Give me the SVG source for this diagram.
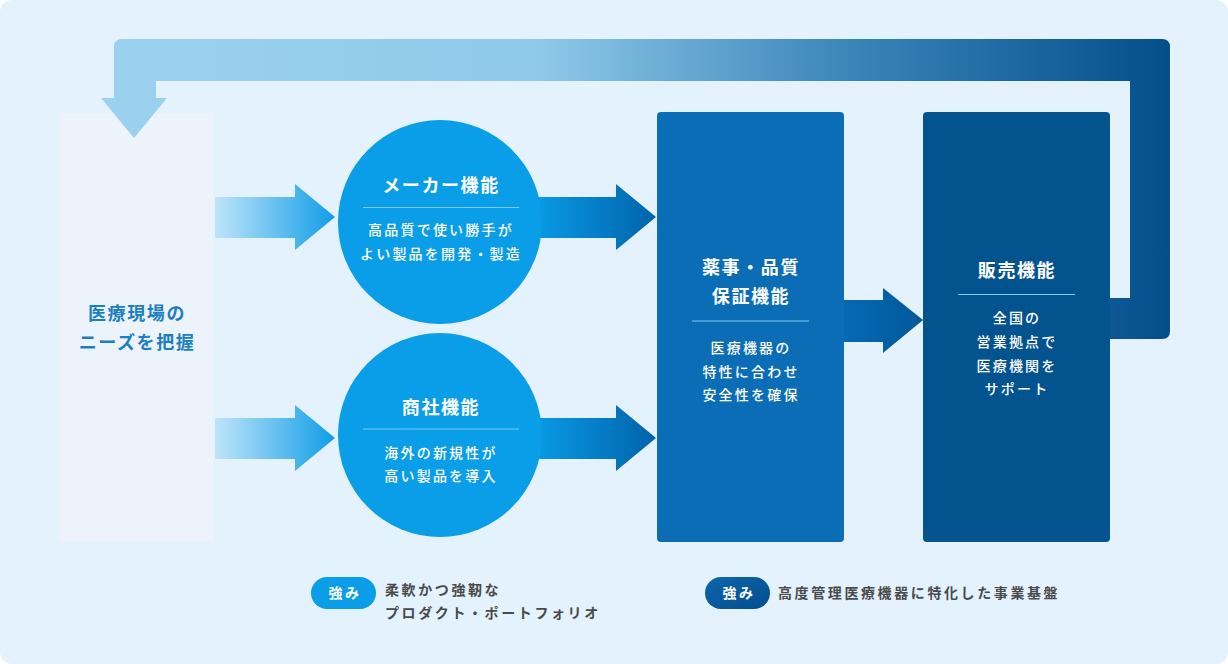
<svg xmlns="http://www.w3.org/2000/svg" width="1228" height="664" viewBox="0 0 1228 664">
<defs>
<style>
text{font-family:"Noto Sans CJK JP","Noto Sans",sans-serif;}
.t{font-size:18px;font-weight:700;fill:#fff;letter-spacing:1.6px;text-anchor:middle;}
.b{font-size:14px;font-weight:500;fill:#fff;letter-spacing:2.2px;text-anchor:middle;}
.div{stroke:#7fcaf5;stroke-width:1.2;}
.lg{font-size:14px;font-weight:700;fill:#4a4a4a;letter-spacing:2.6px;}
.pl{font-size:14px;font-weight:700;fill:#fff;letter-spacing:2.5px;text-anchor:middle;}
</style>
<linearGradient id="gFb" gradientUnits="userSpaceOnUse" x1="114" y1="0" x2="1170" y2="0">
<stop offset="0" stop-color="#9bd1ef"/>
<stop offset="0.4" stop-color="#8fc9e9"/>
<stop offset="0.7" stop-color="#3a84b9"/>
<stop offset="1" stop-color="#034e8b"/>
</linearGradient>
<linearGradient id="gIn" x1="0" y1="0" x2="1" y2="0">
<stop offset="0" stop-color="#bfe5f9"/>
<stop offset="1" stop-color="#109de7"/>
</linearGradient>
<linearGradient id="gOut" x1="0" y1="0" x2="1" y2="0">
<stop offset="0" stop-color="#0a9de8"/>
<stop offset="1" stop-color="#0063aa"/>
</linearGradient>
<linearGradient id="gMid" x1="0" y1="0" x2="1" y2="0">
<stop offset="0" stop-color="#0569b3"/>
<stop offset="1" stop-color="#03589a"/>
</linearGradient>
<linearGradient id="gPill" x1="0" y1="0" x2="1" y2="1">
<stop offset="0" stop-color="#0b66ad"/>
<stop offset="1" stop-color="#054d8c"/>
</linearGradient>
</defs>
<rect x="0" y="0" width="1228" height="664" rx="12" fill="#e3f2fd"/>

<g id="needs">
<rect x="60" y="113" width="153" height="428" fill="#edf3fb"/>
<text class="t" x="137" y="320" style="fill:#1b7fc1">医療現場の</text>
<text class="t" x="137" y="349" style="fill:#1b7fc1">ニーズを把握</text>
</g>

<g id="connectors">
<path d="M1110 298 H1130 V81 H156 V98 H167 L134 138 L101 98 H114 V47 Q114 39 122 39 H1162 Q1170 39 1170 47 V331 Q1170 339 1162 339 H1110 Z" fill="url(#gFb)"/>
<path d="M215 197 H295 V184 L335 217 L295 250 V238 H215 Z" fill="url(#gIn)"/>
<path d="M215 418 H295 V405 L335 438 L295 471 V459 H215 Z" fill="url(#gIn)"/>
<path d="M530 197 H616 V184 L656 217 L616 250 V238 H530 Z" fill="url(#gOut)"/>
<path d="M530 418 H616 V405 L656 438 L616 471 V459 H530 Z" fill="url(#gOut)"/>
<path d="M844 300 H883 V288 L923 320 L883 353 V342 H844 Z" fill="url(#gMid)"/>
</g>

<g id="maker">
<circle cx="440" cy="222" r="102" fill="#0a9de8"/>
<text class="t" x="441" y="192">メーカー機能</text>
<line class="div" x1="363" y1="207.5" x2="519" y2="207.5"/>
<text class="b" x="441" y="235">高品質で使い勝手が</text>
<text class="b" x="441" y="259">よい製品を開発・製造</text>
</g>

<g id="trading">
<circle cx="440" cy="435" r="102" fill="#0a9de8"/>
<text class="t" x="441" y="414">商社機能</text>
<line class="div" x1="363" y1="429" x2="519" y2="429"/>
<text class="b" x="441" y="458">海外の新規性が</text>
<text class="b" x="441" y="481">高い製品を導入</text>
</g>

<g id="qa">
<rect x="657" y="112" width="187" height="430" rx="4" fill="#0a6db6"/>
<text class="t" x="751" y="274">薬事・品質</text>
<text class="t" x="751" y="303">保証機能</text>
<line class="div" x1="692" y1="321" x2="809" y2="321"/>
<text class="b" x="751" y="353">医療機器の</text>
<text class="b" x="751" y="377">特性に合わせ</text>
<text class="b" x="751" y="400">安全性を確保</text>
</g>

<g id="sales">
<rect x="923" y="112" width="187" height="430" rx="4" fill="#03538f"/>
<text class="t" x="1017" y="277">販売機能</text>
<line class="div" x1="958" y1="294.5" x2="1075" y2="294.5"/>
<text class="b" x="1017" y="323">全国の</text>
<text class="b" x="1017" y="347">営業拠点で</text>
<text class="b" x="1017" y="371">医療機関を</text>
<text class="b" x="1017" y="394">サポート</text>
</g>

<g id="strength1">
<rect x="311" y="577" width="65" height="32" rx="16" fill="#0a9de8"/>
<text class="pl" x="345" y="598">強み</text>
<text class="lg" x="385" y="595">柔軟かつ強靭な</text>
<text class="lg" x="385" y="618">プロダクト・ポートフォリオ</text>
</g>

<g id="strength2">
<rect x="705" y="577" width="65" height="32" rx="16" fill="url(#gPill)"/>
<text class="pl" x="739" y="598">強み</text>
<text class="lg" x="778" y="598">高度管理医療機器に特化した事業基盤</text>
</g>
</svg>
